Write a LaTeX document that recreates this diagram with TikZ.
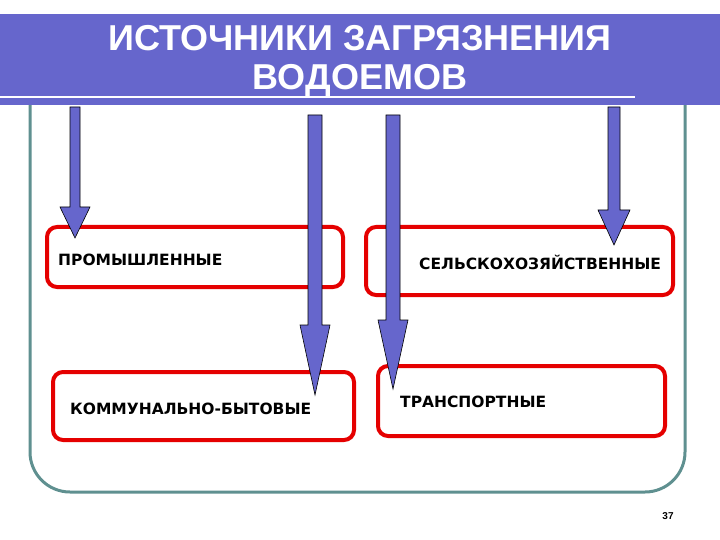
\documentclass[tikz,border=0pt]{standalone}
\usepackage{fontspec}
\setmainfont{Liberation Sans}
\newfontfamily\boxfont{DejaVu Sans}
\definecolor{bar}{HTML}{6666CC}
\definecolor{frame}{HTML}{5F9090}
\begin{document}
\begin{tikzpicture}[x=1pt,y=-1pt,
  box/.style={draw=red!90!black,line width=4pt,rounded corners=10pt},
  lbl/.style={font=\boxfont\bfseries\fontsize{15.5}{17}\selectfont,anchor=west,inner sep=0pt},
  barrow/.style={fill=bar,draw=black,line width=0.6pt}]
\useasboundingbox (0,0) rectangle (720,540);
\fill[white] (0,0) rectangle (720,540);
% outer frame
\draw[draw=frame,line width=3pt,rounded corners=40pt] (30,60) -- (30,492) -- (685,492) -- (685,60);
% title bar
\fill[fill=bar] (0,14) rectangle (720,105);
\draw[white,line width=2pt] (0,97) -- (635,97);
\node[font=\bfseries\fontsize{36}{39}\selectfont,text=white,align=center] (title) at (360,61) {ИСТОЧНИКИ ЗАГРЯЗНЕНИЯ\\ВОДОЕМОВ};
% boxes
\draw[box] (47,227) rectangle (343,287);
\draw[box] (366,227) rectangle (673,295);
\draw[box] (53,372) rectangle (354,440);
\draw[box] (378,366) rectangle (665,436);
\node[lbl] (b1) at (58,260) {ПРОМЫШЛЕННЫЕ};
\node[lbl] (b2) at (419,262) {СЕЛЬСКОХОЗЯЙСТВЕННЫЕ};
\node[lbl] (b3) at (70,409) {КОММУНАЛЬНО-БЫТОВЫЕ};
\node[lbl] (b4) at (400,402) {ТРАНСПОРТНЫЕ};
% arrows
\draw[barrow] (70,107) -- (80,107) -- (80,207) -- (90,207) -- (75,238) -- (60,207) -- (70,207) -- cycle;
\draw[barrow] (308,115) -- (322,115) -- (322,325) -- (330,325) -- (315,395) -- (300,325) -- (308,325) -- cycle;
\draw[barrow] (386,115) -- (400,115) -- (400,320) -- (408,320) -- (393,389) -- (378,320) -- (386,320) -- cycle;
\draw[barrow] (608,107) -- (620,107) -- (620,210) -- (630,210) -- (614,245) -- (598,210) -- (608,210) -- cycle;
\node[font=\bfseries\fontsize{10}{11}\selectfont] (num) at (668,516) {37};
\end{tikzpicture}
\end{document}
